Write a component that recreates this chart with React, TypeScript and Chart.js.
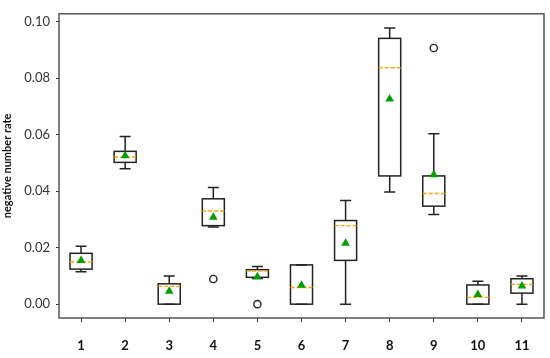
import React, { useEffect, useRef } from "react";
import { Chart, registerables } from "chart.js";

Chart.register(...registerables);

const categories = ["1", "2", "3", "4", "5", "6", "7", "8", "9", "10", "11"];
const whiskerLow = [0.0115, 0.0479, 0, 0.0273, 0.0091, 0, 0, 0.0397, 0.0317, 0, 0];
const q1 = [0.0124, 0.0502, 0, 0.0278, 0.0095, 0, 0.0155, 0.0454, 0.0347, 0, 0.0039];
const medians = [0.0149, 0.0521, 0.0063, 0.033, 0.0117, 0.0059, 0.0278, 0.0837, 0.0392, 0.0024, 0.007];
const q3 = [0.018, 0.0541, 0.0072, 0.0373, 0.0122, 0.0139, 0.0296, 0.0941, 0.0454, 0.0068, 0.009];
const whiskerHigh = [0.0205, 0.0594, 0.01, 0.0413, 0.0133, 0.0139, 0.0367, 0.0978, 0.0603, 0.0081, 0.01];
const means = [0.0155, 0.0525, 0.0046, 0.0308, 0.0097, 0.0067, 0.0216, 0.0726, 0.0458, 0.0034, 0.0064];
const outlierCats = ["4", "5", "9"];
const outlierValues = [0.0089, 0, 0.0907];
const yTicks = [0, 0.02, 0.04, 0.06, 0.08, 0.1];
const yMin = -0.0049;
const yMax = 0.1028;
const yTitle = "negative number rate";

const FONT = "Lato, 'Open Sans', sans-serif";

const boxPlugin = {
  id: "boxParts",
  afterDatasetDraw(chart: any, args: any) {
    if (args.index !== 0) return;
    const ctx = chart.ctx;
    const xs = chart.scales.x;
    const ys = chart.scales.y;
    const step = Math.abs(xs.getPixelForValue(1) - xs.getPixelForValue(0));
    const capHalf = step * 0.125;
    const boxHalf = step * 0.25;
    ctx.save();
    categories.forEach((c, i) => {
      const x = xs.getPixelForValue(i);
      const pLow = ys.getPixelForValue(whiskerLow[i]);
      const pQ1 = ys.getPixelForValue(q1[i]);
      const pQ3 = ys.getPixelForValue(q3[i]);
      const pHigh = ys.getPixelForValue(whiskerHigh[i]);
      const pMed = ys.getPixelForValue(medians[i]);
      ctx.strokeStyle = "#222";
      ctx.lineWidth = 1.5;
      ctx.setLineDash([]);
      ctx.strokeRect(x - boxHalf, pQ3, boxHalf * 2, pQ1 - pQ3);
      ctx.beginPath();
      ctx.moveTo(x, pQ1);
      ctx.lineTo(x, pLow);
      ctx.moveTo(x - capHalf, pLow);
      ctx.lineTo(x + capHalf, pLow);
      ctx.moveTo(x, pQ3);
      ctx.lineTo(x, pHigh);
      ctx.moveTo(x - capHalf, pHigh);
      ctx.lineTo(x + capHalf, pHigh);
      ctx.stroke();
      ctx.strokeStyle = "#ffa500";
      ctx.lineWidth = 1.4;
      ctx.setLineDash([4, 2]);
      ctx.beginPath();
      ctx.moveTo(x - boxHalf, pMed);
      ctx.lineTo(x + boxHalf, pMed);
      ctx.stroke();
    });
    ctx.restore();
  },
  afterDraw(chart: any) {
    const { ctx, chartArea } = chart;
    ctx.save();
    ctx.strokeStyle = "#555";
    ctx.lineWidth = 1.5;
    ctx.setLineDash([]);
    ctx.strokeRect(chartArea.left, chartArea.top, chartArea.right - chartArea.left, chartArea.bottom - chartArea.top);
    ctx.restore();
  },
};

export default function App() {
  const ref = useRef<HTMLCanvasElement>(null);
  useEffect(() => {
    document.body.style.margin = "0";
    const chart = new Chart(ref.current!, {
      type: "bar",
      data: {
        labels: categories,
        datasets: [
          {
            type: "bar",
            data: q1.map((v, i) => [v, q3[i]]) as any,
            backgroundColor: "#ffffff",
            borderWidth: 0,
            barPercentage: 0.5,
            categoryPercentage: 1,
            order: 3,
          } as any,
          {
            type: "line",
            data: means,
            showLine: false,
            pointStyle: "triangle",
            pointRadius: 5,
            backgroundColor: "#00a000",
            borderColor: "#00a000",
            borderWidth: 0,
            order: 1,
          } as any,
          {
            type: "line",
            data: outlierCats.map((c, i) => ({ x: c, y: outlierValues[i] })),
            showLine: false,
            pointStyle: "circle",
            pointRadius: 3.6,
            backgroundColor: "#ffffff",
            borderColor: "#222",
            borderWidth: 1.4,
            order: 2,
          } as any,
        ],
      },
      options: {
        responsive: false,
        animation: false,
        devicePixelRatio: 1,
        layout: { padding: { top: 7, right: 6, left: 0, bottom: 0 } },
        plugins: { legend: { display: false }, tooltip: { enabled: false } },
        scales: {
          x: {
            type: "category",
            offset: true,
            grid: { display: true, drawOnChartArea: false, drawTicks: true, tickLength: 4, color: "#333", offset: false },
            border: { display: false },
            ticks: { color: "#111", padding: 16, font: { family: FONT, size: 13, weight: "bold" } },
            afterFit: (s: any) => { s.height = 40; },
          },
          y: {
            type: "linear",
            min: yMin,
            max: yMax,
            afterBuildTicks: (s: any) => { s.ticks = yTicks.map((v) => ({ value: v })); },
            grid: { display: true, drawOnChartArea: false, drawTicks: true, tickLength: 3, color: "#333" },
            border: { display: false },
            ticks: { color: "#333", padding: 6, font: { family: FONT, size: 13 }, callback: (v: any) => Number(v).toFixed(2) },
            title: { display: true, text: yTitle, color: "#111", font: { family: FONT, size: 11, weight: "bold" }, padding: { top: 1, bottom: 0 } },
            afterFit: (s: any) => { s.width = 59; },
          },
        },
      },
      plugins: [boxPlugin],
    });
    return () => chart.destroy();
  }, []);
  return (
    <div style={{ width: 550, height: 358, background: "#fff" }}>
      <canvas ref={ref} width={550} height={358} />
    </div>
  );
}
